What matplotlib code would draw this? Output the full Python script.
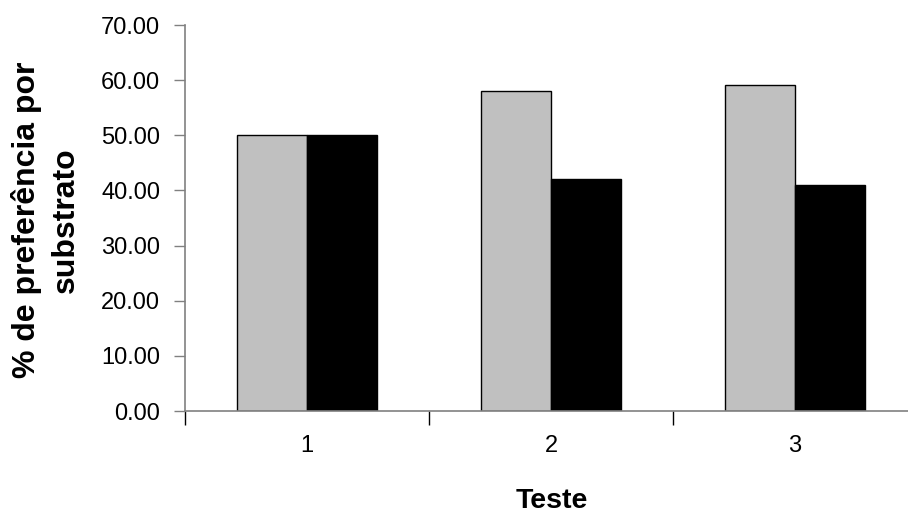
import matplotlib
matplotlib.use("Agg")
import matplotlib.pyplot as plt
from matplotlib.ticker import FixedLocator, NullFormatter
import numpy as np

categories = ["1", "2", "3"]
series_gray = [50.0, 58.0, 59.2]
series_black = [50.0, 42.0, 41.0]
y_ticks = [0, 10, 20, 30, 40, 50, 60, 70]

plt.rcParams['font.family'] = ['Liberation Sans', 'DejaVu Sans']

fig = plt.figure(figsize=(9.08, 5.15), dpi=100)
ax = fig.add_axes([185/908, 104/515, 732/908, 386/515])

x = np.arange(len(categories))
w = 70/244
ax.bar(x - w/2, series_gray, width=w, color='#C0C0C0', edgecolor='black', linewidth=1.0)
ax.bar(x + w/2, series_black, width=w, color='black', edgecolor='black', linewidth=1.0)

ax.set_xlim(-0.5, len(categories) - 0.5)
ax.set_ylim(0, 70)
ax.set_yticks(y_ticks)
ax.set_yticklabels([f"{v:.2f}" for v in y_ticks], fontsize=17)

ax.xaxis.set_major_locator(FixedLocator(np.arange(-0.5, len(categories), 1.0)))
ax.xaxis.set_major_formatter(NullFormatter())
ax.xaxis.set_minor_locator(FixedLocator(x))
ax.set_xticklabels(categories, minor=True, fontsize=17)
ax.tick_params(axis='x', which='major', length=10, width=1, color='black', direction='out')
ax.tick_params(axis='x', which='minor', length=0, pad=17)
ax.tick_params(axis='y', length=8, width=1, color='#808080', pad=10)

for s in ['top', 'right']:
    ax.spines[s].set_visible(False)
for s in ['left', 'bottom']:
    ax.spines[s].set_color('#808080')
    ax.spines[s].set_linewidth(1.2)

fig.text(552/908, 1.5/515, "Teste", fontsize=20.5, fontweight='bold',
         ha='center', va='bottom')
fig.text(27/908, 1 - 220/515, "% de preferência por", rotation=90, fontsize=23,
         fontweight='bold', ha='center', va='center')
fig.text(66/908, 1 - 220/515, "substrato", rotation=90, fontsize=23,
         fontweight='bold', ha='center', va='center')

fig.savefig("out.png", dpi=100)
